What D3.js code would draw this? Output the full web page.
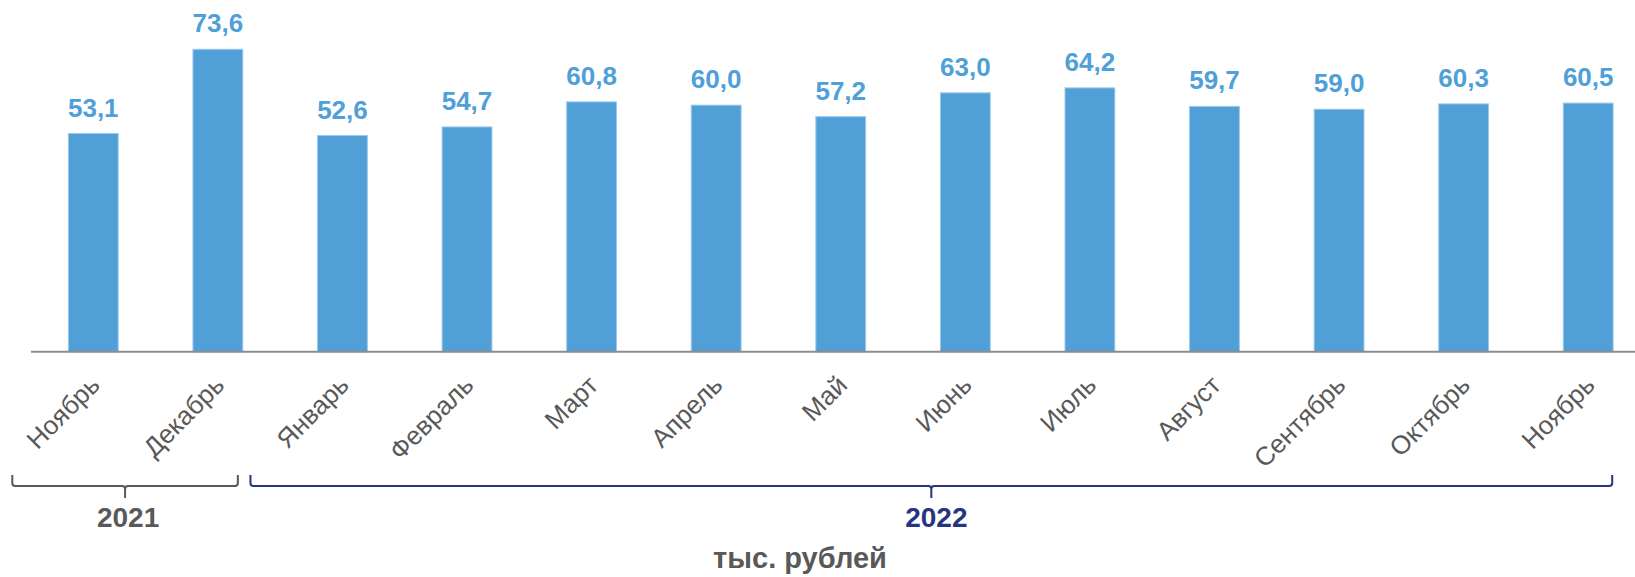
<!DOCTYPE html>
<html>
<head>
<meta charset="utf-8">
<script src="https://cdn.jsdelivr.net/npm/d3@7"></script>
<style>
  html, body { margin: 0; padding: 0; background: #fff; }
  svg { display: block; font-family: 'Liberation Sans', Arial, sans-serif; }
</style>
</head>
<body>
<svg width="1635" height="577"></svg>
<script>
;(function (d3) {
  var svg = d3.select('svg')

  var width = 1635
  var height = 577

  var months = ['Ноябрь', 'Декабрь', 'Январь', 'Февраль', 'Март', 'Апрель', 'Май',
    'Июнь', 'Июль', 'Август', 'Сентябрь', 'Октябрь', 'Ноябрь']
  var values = [53.1, 73.6, 52.6, 54.7, 60.8, 60.0, 57.2, 63.0, 64.2, 59.7, 59.0, 60.3, 60.5]
  var years = [
    {label: '2021', from: 0, to: 1, color: '#595959'},
    {label: '2022', from: 2, to: 12, color: '#27347f'}
  ]
  var unitLabel = 'тыс. рублей'

  var baseY = 351.7

  var x = d3.scaleBand()
    .domain(d3.range(months.length))
    .range([31, 1650.5])
    .paddingInner(0.6)
    .paddingOuter(0.3)

  var y = d3.scaleLinear()
    .domain([0, 80])
    .range([baseY, baseY - 80 * 4.109])

  var fmt = function (v) { return d3.format('.1f')(v).replace('.', ',') }
  var cx = function (i) { return x(i) + x.bandwidth() / 2 }

  // bars
  svg.selectAll('rect.bar')
    .data(values)
    .enter()
    .append('rect')
    .attr('class', 'bar')
    .attr('x', function (d, i) { return x(i) })
    .attr('y', function (d) { return y(d) })
    .attr('width', x.bandwidth())
    .attr('height', function (d) { return baseY - y(d) })
    .style('fill', '#519fd7')
    .style('stroke', '#9cc8ec')
    .style('stroke-width', 1)

  // value labels
  svg.selectAll('text.val')
    .data(values)
    .enter()
    .append('text')
    .attr('class', 'val')
    .attr('x', function (d, i) { return cx(i) })
    .attr('y', function (d) { return y(d) - 17 })
    .attr('text-anchor', 'middle')
    .style('font-size', '26px')
    .style('font-weight', 'bold')
    .style('fill', '#4f9fd9')
    .text(fmt)

  // axis line
  svg.append('line')
    .attr('x1', x.range()[0])
    .attr('x2', width)
    .attr('y1', baseY)
    .attr('y2', baseY)
    .style('stroke', '#8c8c8c')
    .style('stroke-width', 2)

  // month labels
  svg.selectAll('text.month')
    .data(months)
    .enter()
    .append('text')
    .attr('class', 'month')
    .attr('text-anchor', 'end')
    .attr('transform', function (d, i) {
      return 'translate(' + (cx(i) + 8) + ',' + (baseY + 35) + ') rotate(-45)'
    })
    .style('font-size', '26px')
    .style('fill', '#595959')
    .text(function (d) { return d })

  // year brackets
  var brY = 486
  var ends = function (d) {
    var x0 = d.from === 0 ? cx(d.from) - 81 : cx(d.from) - 92
    var x1 = d.from === 0 ? cx(d.to) + 20 : cx(d.to) + 24
    return [x0, x1]
  }

  var yr = svg.selectAll('g.year')
    .data(years)
    .enter()
    .append('g')
    .attr('class', 'year')

  yr.append('path')
    .attr('d', function (d) {
      var e = ends(d)
      var x0 = e[0]
      var x1 = e[1]
      var m = (x0 + x1) / 2
      return 'M' + x0 + ',' + (brY - 11) +
        ' L' + x0 + ',' + (brY - 3) + ' Q' + x0 + ',' + brY + ' ' + (x0 + 3) + ',' + brY +
        ' L' + (m - 3) + ',' + brY + ' Q' + m + ',' + brY + ' ' + m + ',' + (brY + 3) +
        ' L' + m + ',' + (brY + 12) +
        ' M' + m + ',' + (brY + 3) + ' Q' + m + ',' + brY + ' ' + (m + 3) + ',' + brY +
        ' L' + (x1 - 3) + ',' + brY + ' Q' + x1 + ',' + brY + ' ' + x1 + ',' + (brY - 3) +
        ' L' + x1 + ',' + (brY - 11)
    })
    .style('fill', 'none')
    .style('stroke', function (d) { return d.color })
    .style('stroke-width', 2)

  yr.append('text')
    .attr('x', function (d) {
      var e = ends(d)
      return (e[0] + e[1]) / 2 + (d.from === 0 ? 3 : 5)
    })
    .attr('y', 527)
    .attr('text-anchor', 'middle')
    .style('font-size', '28px')
    .style('font-weight', 'bold')
    .style('fill', function (d) { return d.color })
    .text(function (d) { return d.label })

  // unit label
  svg.append('text')
    .attr('x', 800)
    .attr('y', 567.5)
    .attr('text-anchor', 'middle')
    .style('font-size', '29px')
    .style('font-weight', 'bold')
    .style('fill', '#595959')
    .text(unitLabel)
})(window.d3)
</script>
</body>
</html>
